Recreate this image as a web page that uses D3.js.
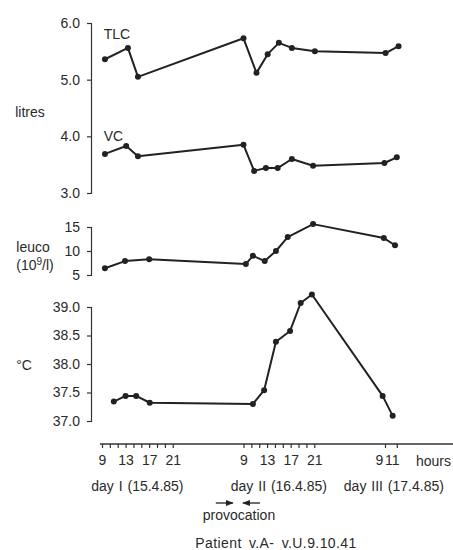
<!DOCTYPE html>
<html><head><meta charset="utf-8">
<script src="https://cdn.jsdelivr.net/npm/d3@7"></script>
<style>
html,body{margin:0;padding:0;background:#fff;}
svg text{font-family:"Liberation Sans",Arial,Helvetica,sans-serif;fill:#2a2a2a;}
</style></head>
<body>
<svg id="c" width="453" height="550"></svg>
<script>
// ---- data (hours counted from 0:00 of day I) ----
const tlcHours   = [9.5, 13.4, 15.1, 33, 35.2, 37.1, 39, 41.2, 45.1, 57.1, 59.3];
const tlcValues  = [5.36, 5.56, 5.05, 5.73, 5.12, 5.45, 5.65, 5.56, 5.5, 5.47, 5.59];
const vcHours    = [9.5, 13.1, 15.1, 33, 34.8, 36.8, 38.8, 41.2, 44.8, 56.9, 59];
const vcValues   = [3.69, 3.83, 3.65, 3.85, 3.39, 3.44, 3.44, 3.6, 3.48, 3.53, 3.63];
const leucoHours = [9.5, 12.9, 17, 33.4, 34.6, 36.6, 38.5, 40.5, 44.8, 56.8, 58.7];
const leucoValues= [6.4, 7.9, 8.3, 7.3, 9.0, 7.9, 10, 12.9, 15.6, 12.7, 11.2];
const tempHours  = [11, 13, 14.8, 17.1, 34.6, 36.5, 38.5, 40.9, 42.7, 44.6, 56.6, 58.3];
const tempValues = [37.34, 37.44, 37.44, 37.32, 37.3, 37.54, 38.39, 38.58, 39.07, 39.22, 37.44, 37.09];

const litreTicks = [3, 4, 5, 6];
const leucoTicks = [5, 10, 15];
const tempTicks  = [37, 37.5, 38, 38.5, 39];
const hourLabelTicks = [9, 13, 17, 21, 33, 37, 41, 45, 57, 59];
const dayLabels = ["day I (15.4.85)", "day II (16.4.85)", "day III (17.4.85)"];
const dayCenters = [15, 39, 58.5];

const svg = d3.select("#c");
const ink = "#222";

const x = d3.scaleLinear().domain([9, 57]).range([102, 385]);
const yL = d3.scaleLinear().domain([3, 6]).range([193, 23]);
const yW = d3.scaleLinear().domain([5, 15]).range([275, 227]);
const yT = d3.scaleLinear().domain([37, 39]).range([421, 307]);

const axX = 91;
function yAxis(scale, ticks, fmt) {
  const g = svg.append("g").attr("transform", `translate(${axX},0)`)
    .call(d3.axisLeft(scale).tickValues(ticks).tickSize(4).tickSizeOuter(4).tickPadding(7).tickFormat(fmt));
  g.selectAll("path,line").attr("stroke", "#333").attr("stroke-width", 1.2);
  g.selectAll("text").attr("font-size", 14).attr("fill", "#2a2a2a");
  return g;
}
yAxis(yL, litreTicks, d3.format(".1f"));
yAxis(yW, leucoTicks, d3.format("d"));
yAxis(yT, tempTicks, d3.format(".1f"));

function series(hours, values, yScale) {
  const pts = hours.map((h, i) => [h, values[i]]);
  svg.append("path").datum(pts)
    .attr("fill", "none").attr("stroke", ink).attr("stroke-width", 2).attr("stroke-linejoin", "round")
    .attr("d", d3.line().x(d => x(d[0])).y(d => yScale(d[1])));
  svg.append("g").selectAll("circle").data(pts).join("circle")
    .attr("cx", d => x(d[0])).attr("cy", d => yScale(d[1])).attr("r", 3).attr("fill", ink);
}
series(tlcHours, tlcValues, yL);
series(vcHours, vcValues, yL);
series(leucoHours, leucoValues, yW);
series(tempHours, tempValues, yT);

// series / axis labels
svg.append("text").attr("x", x(9.3)).attr("y", 39).attr("font-size", 14).text("TLC");
svg.append("text").attr("x", x(9.3)).attr("y", 141).attr("font-size", 14).text("VC");
svg.append("text").attr("x", 30).attr("y", 117).attr("font-size", 14).attr("text-anchor", "middle").text("litres");
svg.append("text").attr("x", 33).attr("y", 252).attr("font-size", 14).attr("text-anchor", "middle").text("leuco");
const t10 = svg.append("text").attr("x", 35).attr("y", 270).attr("font-size", 14).attr("text-anchor", "middle");
t10.append("tspan").text("(10");
t10.append("tspan").attr("dy", -5).attr("font-size", 10).text("9");
t10.append("tspan").attr("dy", 5).text("/l)");
svg.append("text").attr("x", 24).attr("y", 370).attr("font-size", 14).attr("text-anchor", "middle").text("°C");

// x axis
const axY = 444;
svg.append("line").attr("x1", 100).attr("x2", 453).attr("y1", axY).attr("y2", axY)
  .attr("stroke", "#333").attr("stroke-width", 1.4);
const minor = d3.range(9, 21.01, 4/3).concat(d3.range(33, 45.01, 4/3)).concat([57, 59]);
const gx = svg.append("g").attr("transform", `translate(0,${axY})`)
  .call(d3.axisBottom(x).tickValues(minor).tickSize(4).tickFormat(""));
gx.select(".domain").remove();
gx.selectAll("line").attr("stroke", "#333").attr("stroke-width", 1.2);

const gl = svg.append("g").attr("transform", `translate(0,${axY})`)
  .call(d3.axisBottom(x).tickValues(hourLabelTicks).tickSize(0).tickPadding(11).tickFormat(d => d % 24));
gl.select(".domain").remove();
gl.selectAll("text").attr("font-size", 14).attr("fill", "#2a2a2a")
  .attr("dx", d => d === 57 ? -6 : d === 59 ? -5 : 0);
svg.append("text").attr("x", 416).attr("y", 466).attr("font-size", 14).text("hours");

svg.append("g").selectAll("text").data(dayLabels).join("text")
  .attr("x", (d, i) => x(dayCenters[i])).attr("y", 491).attr("font-size", 14)
  .attr("text-anchor", "middle").attr("word-spacing", 1).text(d => d);

// provocation arrows
const defs = svg.append("defs");
defs.append("marker").attr("id", "ah").attr("viewBox", "0 0 10 10").attr("refX", 9).attr("refY", 5)
  .attr("markerWidth", 6).attr("markerHeight", 6).attr("orient", "auto")
  .append("path").attr("d", "M0,1L10,5L0,9Z").attr("fill", ink);
svg.append("line").attr("x1", x(28.3)).attr("x2", x(31.2)).attr("y1", 503).attr("y2", 503)
  .attr("stroke", ink).attr("stroke-width", 1.3).attr("marker-end", "url(#ah)");
svg.append("line").attr("x1", x(35.8)).attr("x2", x(32.9)).attr("y1", 503).attr("y2", 503)
  .attr("stroke", ink).attr("stroke-width", 1.3).attr("marker-end", "url(#ah)");
svg.append("text").attr("x", 239).attr("y", 520).attr("font-size", 14).attr("text-anchor", "middle").text("provocation");
svg.append("text").attr("x", 276).attr("y", 548).attr("font-size", 14).attr("text-anchor", "middle")
  .attr("word-spacing", 3).attr("letter-spacing", 0.4).text("Patient v.A- v.U.9.10.41");
</script>
</body></html>
